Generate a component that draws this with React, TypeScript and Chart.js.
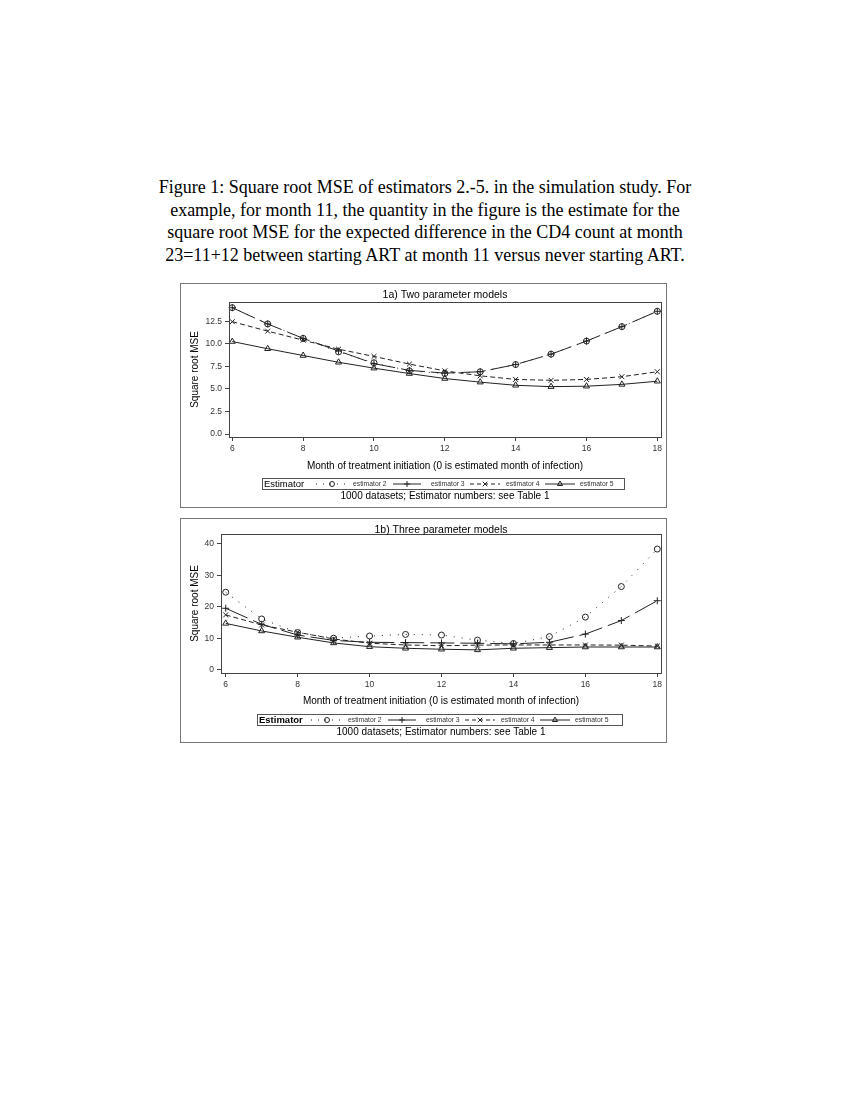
import React, { useEffect, useRef } from "react";
import { Chart, registerables } from "chart.js";

Chart.register(...registerables);

// ---------- data ----------
const months = [6, 7, 8, 9, 10, 11, 12, 13, 14, 15, 16, 17, 18];
const xTickValues = [6, 8, 10, 12, 14, 16, 18];
const estimatorLabels = ["estimator 2", "estimator 3", "estimator 4", "estimator 5"];

const twoParamEst2 = [14.0, 12.2, 10.6, 9.1, 7.9, 7.0, 6.7, 6.9, 7.7, 8.85, 10.3, 11.9, 13.6];
const twoParamEst3 = [14.0, 12.2, 10.6, 9.2, 7.8, 7.05, 6.75, 6.9, 7.7, 8.85, 10.3, 11.9, 13.6];
const twoParamEst4 = [12.45, 11.4, 10.4, 9.4, 8.6, 7.75, 7.0, 6.45, 6.05, 5.95, 6.05, 6.35, 6.9];
const twoParamEst5 = [10.25, 9.45, 8.7, 7.95, 7.3, 6.7, 6.15, 5.75, 5.4, 5.25, 5.3, 5.5, 5.85];
const twoParamYTicks = [0, 2.5, 5, 7.5, 10, 12.5];

const threeParamEst2 = [24.6, 16.1, 11.8, 10.0, 10.7, 11.2, 11.0, 9.4, 8.3, 10.5, 16.7, 26.4, 38.3];
const threeParamEst3 = [19.5, 14.4, 11.0, 9.3, 8.7, 8.6, 8.5, 8.4, 8.2, 8.7, 11.3, 15.6, 21.9];
const threeParamEst4 = [17.4, 14.2, 11.9, 9.75, 8.4, 7.85, 7.6, 7.8, 7.85, 7.85, 7.85, 7.8, 7.5];
const threeParamEst5 = [14.7, 12.3, 10.3, 8.5, 7.3, 6.8, 6.5, 6.3, 6.8, 7.0, 7.2, 7.2, 7.2];
const threeParamYTicks = [0, 10, 20, 30, 40];

const captionLines = [
  "Figure 1: Square root MSE of estimators 2.-5. in the simulation study. For",
  "example, for month 11, the quantity in the figure is the estimate for the",
  "square root MSE for the expected difference in the CD4 count at month",
  "23=11+12 between starting ART at month 11 versus never starting ART.",
];
const panelTitles = ["1a) Two parameter models", "1b) Three parameter models"];
const xAxisTitle = "Month of treatment initiation (0 is estimated month of infection)";
const yAxisTitle = "Square root MSE";
const legendTitle = "Estimator";
const footnote = "1000 datasets; Estimator numbers: see Table 1";

// ---------- styles ----------
const SANS = '"Liberation Sans", Arial, sans-serif';
const INK = "#222";

const seriesStyles = [
  { dash: [1, 7], legendDash: [1, 6], point: "circle", radius: 3 },
  { dash: [24, 6], legendDash: [], point: "cross", radius: 3.5 },
  { dash: [5, 3], legendDash: [4, 3], point: "crossRot", radius: 3.5 },
  { dash: [], legendDash: [], point: "triangle", radius: 3.5 },
];

// legend slots relative to legend box left: [sampleStart, sampleEnd, labelX]
const legendSlots = [
  [54, 86, 91],
  [131, 159, 169],
  [208, 238, 244],
  [283, 313, 318],
];

type Geom = {
  left: number;
  top: number;
  width: number;
  height: number;
  yAxisWidth: number;
  xAxisHeight: number;
  padTop: number;
  padRight: number;
  xMin: number;
  xMax: number;
  yMin: number;
  yMax: number;
  yTicks: number[];
  yDecimals: number;
  titleY: number;
  yTitleX: number;
  xTitleY: number;
  footY: number;
  legend: { x: number; y: number; w: number; h: number };
  legendBold: boolean;
};

const geomA: Geom = {
  left: 180,
  top: 283,
  width: 487,
  height: 225,
  yAxisWidth: 49,
  xAxisHeight: 71,
  padTop: 19,
  padRight: 6,
  xMin: 5.907,
  xMax: 18.104,
  yMin: -0.33,
  yMax: 14.63,
  yTicks: twoParamYTicks,
  yDecimals: 1,
  titleY: 12.5,
  yTitleX: 15,
  xTitleY: 182.8,
  footY: 213.7,
  legend: { x: 82, y: 194.5, w: 362, h: 11 },
  legendBold: false,
};

const geomB: Geom = {
  left: 180,
  top: 518,
  width: 487,
  height: 225,
  yAxisWidth: 41,
  xAxisHeight: 70,
  padTop: 16,
  padRight: 6,
  xMin: 5.869,
  xMax: 18.103,
  yMin: -1.05,
  yMax: 43.08,
  yTicks: threeParamYTicks,
  yDecimals: 0,
  titleY: 12.5,
  yTitleX: 15,
  xTitleY: 182.8,
  footY: 214.3,
  legend: { x: 77, y: 195.5, w: 365, h: 11 },
  legendBold: true,
};

function drawMarker(ctx: CanvasRenderingContext2D, style: string, x: number, y: number, r: number) {
  ctx.beginPath();
  if (style === "circle") {
    ctx.arc(x, y, r, 0, Math.PI * 2);
  } else if (style === "cross") {
    ctx.moveTo(x - r, y);
    ctx.lineTo(x + r, y);
    ctx.moveTo(x, y - r);
    ctx.lineTo(x, y + r);
  } else if (style === "crossRot") {
    const d = r * 0.75;
    ctx.moveTo(x - d, y - d);
    ctx.lineTo(x + d, y + d);
    ctx.moveTo(x - d, y + d);
    ctx.lineTo(x + d, y - d);
  } else {
    ctx.moveTo(x, y - r);
    ctx.lineTo(x + r * 0.866, y + r * 0.5);
    ctx.lineTo(x - r * 0.866, y + r * 0.5);
    ctx.closePath();
  }
  ctx.stroke();
}

function Panel({ geom, title, series }: { geom: Geom; title: string; series: number[][] }) {
  const ref = useRef<HTMLCanvasElement | null>(null);

  useEffect(() => {
    const canvas = ref.current;
    if (!canvas) return;
    const g = geom;

    const decor = {
      id: "decor",
      afterDraw(chart: any) {
        const ctx: CanvasRenderingContext2D = chart.ctx;
        const a = chart.chartArea;
        ctx.save();
        ctx.setLineDash([]);
        ctx.lineWidth = 1;
        // plot frame
        ctx.strokeStyle = "#444";
        const l = Math.round(a.left) + 0.5;
        const t = Math.round(a.top) + 0.5;
        ctx.strokeRect(l, t, Math.round(a.right) - Math.round(a.left), Math.round(a.bottom) - Math.round(a.top));
        // outer panel border
        ctx.strokeStyle = "#777";
        ctx.strokeRect(0.5, 0.5, chart.width - 1, chart.height - 1);

        const cx = (a.left + a.right) / 2;
        ctx.fillStyle = "#000";
        ctx.textAlign = "center";
        ctx.textBaseline = "middle";
        ctx.font = `10.5px ${SANS}`;
        ctx.fillText(title, cx, g.titleY);
        ctx.font = `10px ${SANS}`;
        ctx.fillText(xAxisTitle, cx, g.xTitleY);
        ctx.fillText(footnote, cx, g.footY);

        ctx.save();
        ctx.translate(g.yTitleX, (a.top + a.bottom) / 2);
        ctx.rotate(-Math.PI / 2);
        ctx.fillText(yAxisTitle, 0, 0);
        ctx.restore();

        // legend
        const L = g.legend;
        ctx.strokeStyle = "#555";
        ctx.strokeRect(Math.round(L.x) + 0.5, Math.round(L.y) + 0.5, L.w, L.h);
        const ly = Math.round(L.y) + 0.5 + L.h / 2;
        ctx.textAlign = "left";
        ctx.fillStyle = "#000";
        ctx.font = `${g.legendBold ? "bold " : ""}9.5px ${SANS}`;
        ctx.fillText(legendTitle, L.x + 2, ly + 0.5);
        ctx.font = `6.8px ${SANS}`;
        ctx.strokeStyle = INK;
        estimatorLabels.forEach((lab, i) => {
          const [s0, s1, tx] = legendSlots[i];
          const st = seriesStyles[i];
          ctx.setLineDash(st.legendDash);
          ctx.beginPath();
          ctx.moveTo(L.x + s0, ly);
          ctx.lineTo(L.x + s1, ly);
          ctx.stroke();
          ctx.setLineDash([]);
          drawMarker(ctx, st.point, L.x + (s0 + s1) / 2, ly, st.radius - 0.5);
          ctx.fillStyle = "#333";
          ctx.fillText(lab, L.x + tx, ly + 0.5);
        });
        ctx.restore();
      },
    };

    const chart = new Chart(canvas, {
      type: "line",
      data: {
        datasets: series.map((vals, i) => ({
          label: estimatorLabels[i],
          data: months.map((m, j) => ({ x: m, y: vals[j] })),
          borderColor: INK,
          borderWidth: 1,
          borderDash: seriesStyles[i].dash,
          pointStyle: seriesStyles[i].point as any,
          pointRadius: seriesStyles[i].radius,
          pointBorderColor: INK,
          pointBackgroundColor: "rgba(0,0,0,0)",
          pointBorderWidth: 1,
          tension: 0,
          fill: false,
          clip: false as any,
        })),
      },
      options: {
        responsive: false,
        maintainAspectRatio: false,
        animation: false,
        events: [],
        layout: { padding: { left: 0, top: g.padTop, right: g.padRight, bottom: 0 } },
        plugins: {
          legend: { display: false },
          title: { display: false },
          tooltip: { enabled: false },
        },
        scales: {
          x: {
            type: "linear",
            min: g.xMin,
            max: g.xMax,
            afterBuildTicks: (s: any) => {
              s.ticks = xTickValues.map((v) => ({ value: v }));
            },
            afterFit: (s: any) => {
              s.height = g.xAxisHeight;
            },
            ticks: {
              font: { family: SANS, size: 8.5 },
              color: "#333",
              padding: 3,
              maxRotation: 0,
              autoSkip: false,
              callback: (v: any) => String(v),
            },
            grid: { drawOnChartArea: false, drawTicks: true, tickLength: 4, color: "#444" },
            border: { display: true, color: "#444" },
          },
          y: {
            type: "linear",
            min: g.yMin,
            max: g.yMax,
            afterBuildTicks: (s: any) => {
              s.ticks = g.yTicks.map((v) => ({ value: v }));
            },
            afterFit: (s: any) => {
              s.width = g.yAxisWidth;
            },
            ticks: {
              font: { family: SANS, size: 8.5 },
              color: "#333",
              padding: 3,
              autoSkip: false,
              callback: (v: any) => Number(v).toFixed(g.yDecimals),
            },
            grid: { drawOnChartArea: false, drawTicks: true, tickLength: 4, color: "#444" },
            border: { display: true, color: "#444" },
          },
        },
      } as any,
      plugins: [decor],
    });

    return () => chart.destroy();
  }, [geom, title, series]);

  return (
    <canvas
      ref={ref}
      width={geom.width}
      height={geom.height}
      style={{
        position: "absolute",
        left: geom.left,
        top: geom.top,
        width: geom.width,
        height: geom.height,
      }}
    />
  );
}

const seriesA = [twoParamEst2, twoParamEst3, twoParamEst4, twoParamEst5];
const seriesB = [threeParamEst2, threeParamEst3, threeParamEst4, threeParamEst5];

export default function App() {
  return (
    <div style={{ position: "absolute", left: 0, top: 0, width: 850, height: 1100, background: "#fff" }}>
      <div
        style={{
          position: "absolute",
          left: 0,
          top: 176,
          width: 850,
          textAlign: "center",
          fontFamily: '"Liberation Serif", "Times New Roman", serif',
          fontSize: 18,
          lineHeight: "22.6px",
          color: "#000",
        }}
      >
        {captionLines.map((line, i) => (
          <div key={i} style={{ whiteSpace: "nowrap" }}>
            {line}
          </div>
        ))}
      </div>
      <Panel geom={geomA} title={panelTitles[0]} series={seriesA} />
      <Panel geom={geomB} title={panelTitles[1]} series={seriesB} />
    </div>
  );
}
